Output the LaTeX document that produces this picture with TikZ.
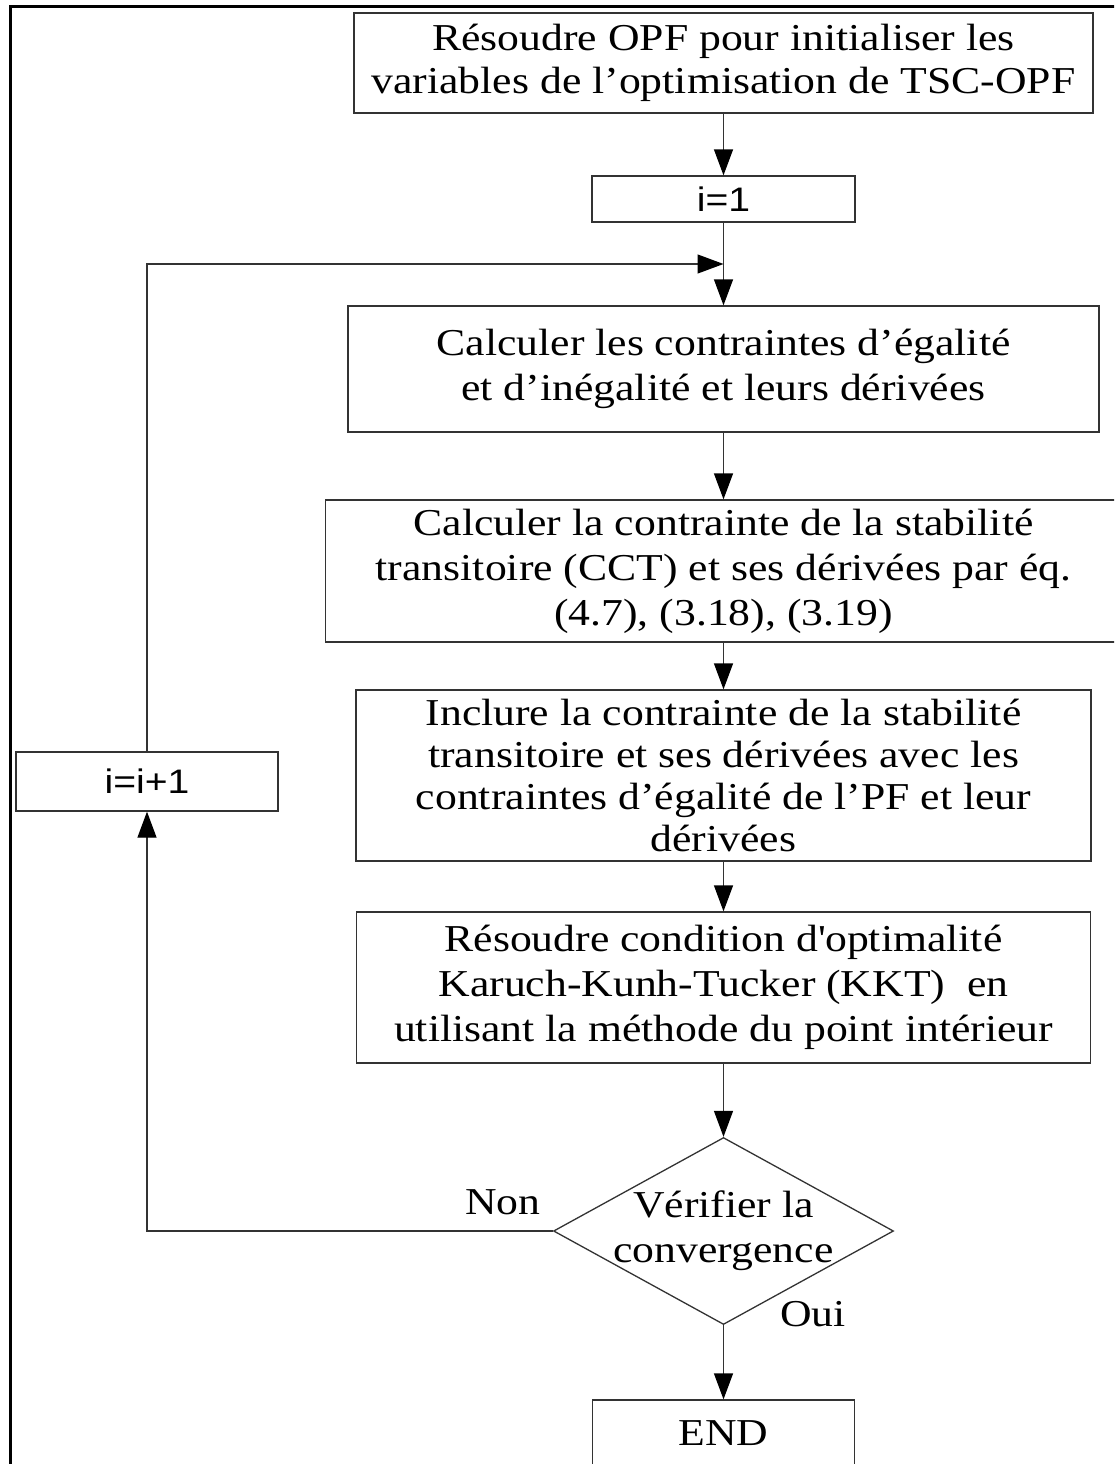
\documentclass[tikz,border=0pt]{standalone}
\usepackage{fontspec}
\setmainfont{Liberation Serif}[FakeStretch=1.15]
\newfontfamily\sansf{Liberation Sans}[FakeStretch=1.15]
\usetikzlibrary{arrows.meta,shapes.geometric}
\begin{document}
\begin{tikzpicture}[x=1pt,y=-1pt,
  box/.style={draw=black!80, line width=1.3pt, rectangle, inner sep=0pt, align=center,
    font=\fontsize{38}{45}\selectfont},
  sbox/.style={box, font=\sansf\fontsize{34}{40}\selectfont},
  link/.style={draw=black!80, line width=1.3pt},
  arr/.style={link, -{Triangle[length=26pt,width=19pt,color=black]}},
  lbl/.style={font=\fontsize{38}{45}\selectfont, inner sep=0pt, align=center}]
\useasboundingbox (0,0) rectangle (1114,1464);
\clip (0,0) rectangle (1114,1464);
\fill[white] (0,0) rectangle (1114,1464);
\draw[line width=3pt, line join=miter] (10,1480) -- (10,7) -- (1120,7);

\node[box, minimum width=739pt, minimum height=100pt, font=\fontsize{38}{43}\selectfont] (b1) at (723.5,63)
  {Résoudre OPF pour initialiser les\\variables de l’optimisation de TSC-OPF};
\node[sbox, minimum width=263pt, minimum height=46pt] (i1) at (723.5,199) {i=1};
\node[box, minimum width=751pt, minimum height=126pt] (b2) at (723.5,369)
  {Calculer les contraintes d’égalité\\et d’inégalité et leurs dérivées};
\node[box, minimum width=796pt, minimum height=142pt] (b3) at (723.5,571)
  {Calculer la contrainte de la stabilité\\transitoire (CCT) et ses dérivées par éq.\\(4.7), (3.18), (3.19)};
\node[box, minimum width=735pt, minimum height=171pt, font=\fontsize{38}{42}\selectfont] (b4) at (723.5,775.5)
  {Inclure la contrainte de la stabilité\\transitoire et ses dérivées avec les\\contraintes d’égalité de l’PF et leur\\dérivées};
\node[box, minimum width=734pt, minimum height=151pt] (b5) at (723.5,987.5)
  {Résoudre condition d\textquotesingle optimalité\\Karuch-Kunh-Tucker (KKT)\ \ en\\utilisant la méthode du point intérieur};
\node[draw=black!80, line width=1.3pt, diamond, minimum width=340pt, minimum height=187pt, inner sep=0pt] (dia) at (723.5,1231) {};
\node[lbl] (diatext) at (dia.center) {Vérifier la\\convergence};
\node[box, minimum width=262pt, minimum height=100pt] (end) at (723.5,1450) {\raisebox{0pt}[0pt][0pt]{\raisebox{5pt}{END}}};
\node[sbox, minimum width=262pt, minimum height=59pt] (inc) at (147,781.5) {i=i+1};

\node[lbl] (non) at (503,1202) {Non};
\node[lbl] (oui) at (813,1314) {Oui};

\coordinate (merge) at (723.5,264);

\draw[arr] (b1) -- (i1);
\draw[arr] (i1) -- (b2);
\draw[arr] (b2) -- (b3);
\draw[arr] (b3) -- (b4);
\draw[arr] (b4) -- (b5);
\draw[arr] (b5) -- (dia);
\draw[arr] (dia) -- (end);
\draw[arr] (dia.west) -| (inc.south);
\draw[arr] (inc.north) |- (merge);
\end{tikzpicture}
\end{document}
